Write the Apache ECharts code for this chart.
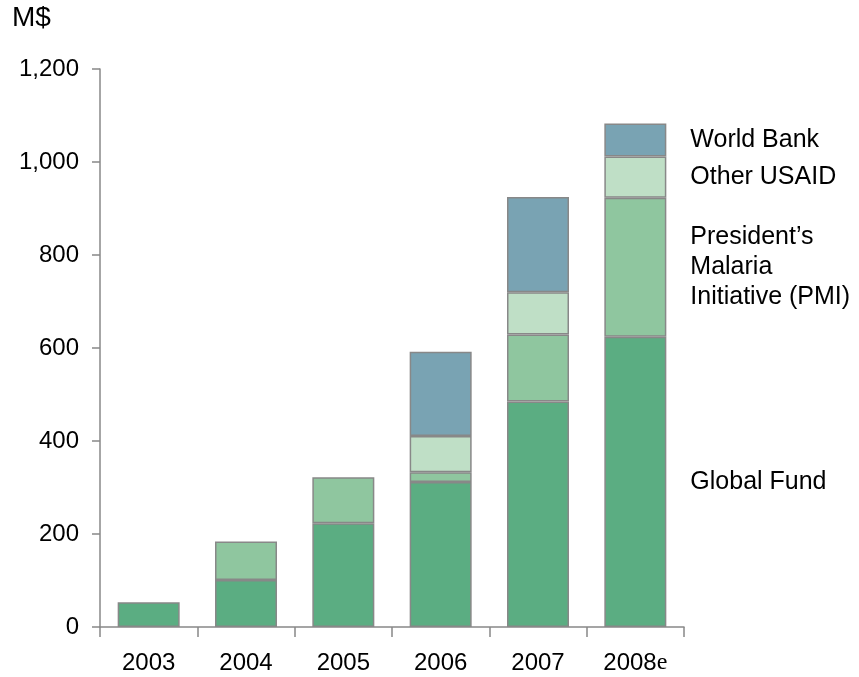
<!DOCTYPE html>
<html><head><meta charset="utf-8">
<script src="https://cdn.jsdelivr.net/npm/echarts@6/dist/echarts.min.js"></script>
<style>html,body{margin:0;padding:0;background:#fff}#c{width:859px;height:677px}</style>
</head><body><div id="c"></div>
<script>
const categories = ['2003','2004','2005','2006','2007','2008e'];
const globalFund = [53, 101, 223, 312, 485, 624];
const pmi = [0, 83, 99, 21, 144, 299];
const otherUsaid = [0, 0, 0, 78, 91, 89];
const worldBank = [0, 0, 0, 181, 205, 71];
const seriesNames = ['Global Fund', 'President\u2019s\nMalaria\nInitiative (PMI)', 'Other USAID', 'World Bank'];
const colors = ['#5bad82', '#8fc69f', '#bfdfc6', '#79a3b3'];
const yTicks = [0, 200, 400, 600, 800, 1000, 1200];

const font = 'Liberation Sans, Arial, sans-serif';
const allData = [globalFund, pmi, otherUsaid, worldBank];
const series = allData.map((arr, s) => ({
  type: 'bar', stack: 'total', name: seriesNames[s], barWidth: 62,
  itemStyle: { color: colors[s], borderColor: '#888', borderWidth: 1.5 },
  data: arr.map((v, i) => {
    if (v === 0) return '-';
    if (i === arr.length - 1) {
      return { value: v, label: { show: true, position: 'right', distance: 24,
        formatter: seriesNames[s], color: '#000', fontSize: 25, fontFamily: font,
        lineHeight: 30, align: 'left' } };
    }
    return v;
  })
}));

const chart = echarts.init(document.getElementById('c'), null, { renderer: 'canvas' });
chart.setOption({
  backgroundColor: '#fff',
  animation: false,
  grid: { left: 100, right: 175, top: 69, bottom: 50 },
  graphic: [{ type: 'text', left: 12, top: 4, style: { text: 'M$', fontSize: 28, fontFamily: font, fill: '#000' } }],
  xAxis: {
    type: 'category', data: categories,
    axisLine: { lineStyle: { color: '#888', width: 1.5 } },
    axisTick: { show: true, interval: 0, length: 10, lineStyle: { color: '#888', width: 1.5 } },
    axisLabel: { interval: 0, color: '#000', fontSize: 24, fontFamily: font, margin: 24,
      formatter: v => v.endsWith('e') ? v.slice(0, -1) + '{e|e}' : v,
      rich: { e: { fontSize: 24, fontFamily: 'Liberation Serif, serif', color: '#000' } } }
  },
  yAxis: {
    type: 'value', min: yTicks[0], max: yTicks[yTicks.length - 1], interval: 200,
    axisLine: { show: true, lineStyle: { color: '#888', width: 1.5 } },
    axisTick: { show: true, length: 8, lineStyle: { color: '#888', width: 1.5 } },
    splitLine: { show: false },
    axisLabel: { color: '#000', fontSize: 24, fontFamily: font, margin: 21,
      formatter: v => v.toLocaleString('en-US') }
  },
  series
});
</script></body></html>
